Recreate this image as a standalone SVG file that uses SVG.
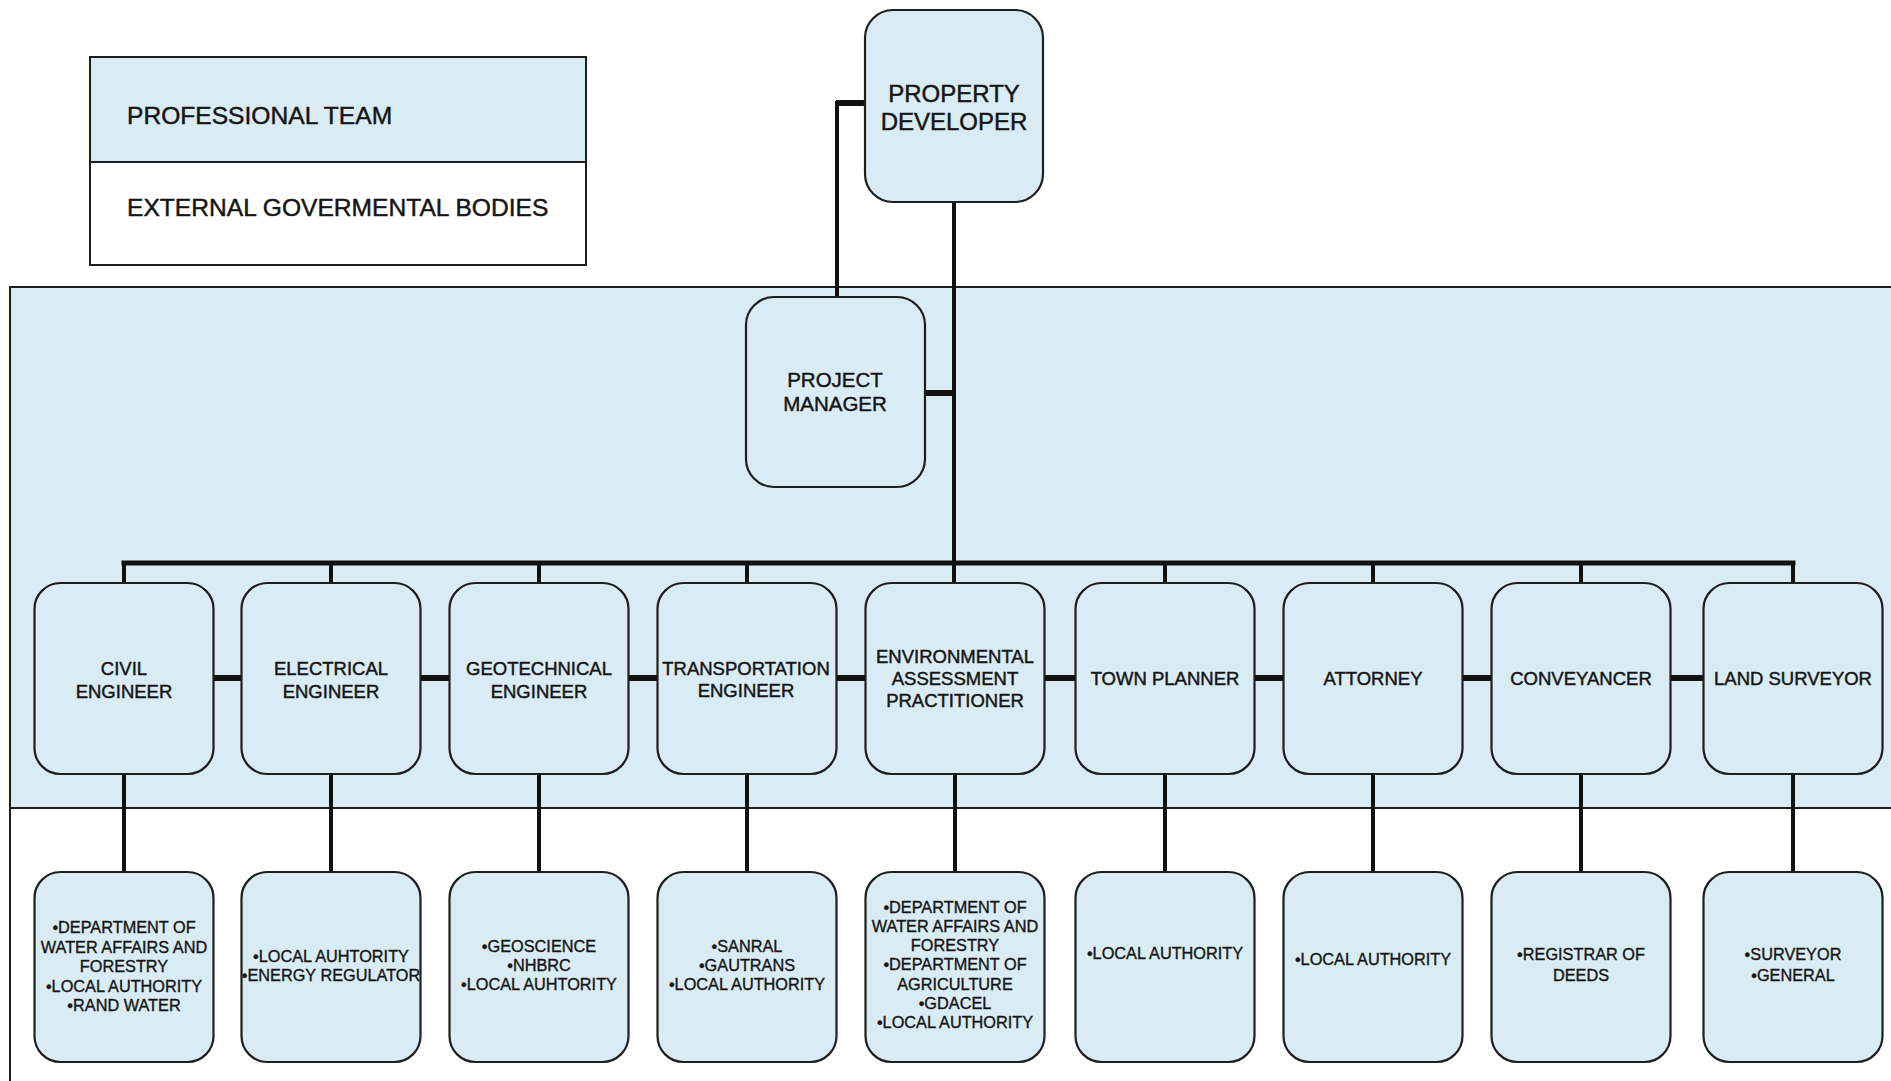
<svg xmlns="http://www.w3.org/2000/svg" width="1891" height="1081" viewBox="0 0 1891 1081">
<style>
.bg{fill:#ffffff}
.blue{fill:#d9ecf3}
.frame{fill:none;stroke:#1e1e1e;stroke-width:2}
.node rect{fill:#d9ecf3;stroke:#1e1e1e;stroke-width:2.2}
text{font-family:"Liberation Sans",Arial,sans-serif;fill:#151515;text-anchor:middle;stroke:#151515;stroke-width:0.45}
.t1{font-size:18.5px}
.t2{font-size:16.3px;stroke-width:0.35}
.big{font-size:24px}
.pm{font-size:20.5px}
.leg{font-size:24.6px;text-anchor:start}
.ln{stroke:#111;stroke-width:4;fill:none}
.bus{stroke:#111;stroke-width:5;fill:none}
.stub{stroke:#111;stroke-width:6;fill:none}
</style>
<rect class="bg" x="0" y="0" width="1891" height="1081"/>

<g id="legend">
  <rect class="blue" x="90" y="57" width="496" height="105"/>
  <rect fill="#ffffff" x="90" y="162" width="496" height="103"/>
  <rect class="frame" x="90" y="57" width="496" height="208"/>
  <line class="frame" x1="90" y1="162" x2="586" y2="162"/>
  <text class="leg" x="127" y="124">PROFESSIONAL TEAM</text>
  <text class="leg" x="127" y="216">EXTERNAL GOVERMENTAL BODIES</text>
</g>

<g id="panels">
  <rect class="blue" x="10" y="287" width="1895" height="521"/>
  <path class="frame" d="M1900 287 H10 V1085"/>
  <line class="frame" x1="10" y1="808" x2="1900" y2="808"/>
</g>

<g id="connectors">
  <path class="stub" d="M836 103 H866"/>
  <path class="ln" d="M837 101 V297"/>
  <path class="ln" d="M954 202 V583"/>
  <path class="stub" d="M925 393 H954"/>
  <path class="bus" d="M121.5 563 H1795.5"/>
  <path class="ln" d="M124 563 V583 M331 563 V583 M539 563 V583 M747 563 V583 M1165 563 V583 M1373 563 V583 M1581 563 V583 M1793 563 V583"/>
  <path class="stub" d="M213.5 678 H241.5 M420.5 678 H449.5 M628.5 678 H657.5 M836.5 678 H865.5 M1044.5 678 H1075.5 M1254.5 678 H1283.5 M1462.5 678 H1491.5 M1670.5 678 H1703.5"/>
  <path class="ln" d="M124 774 V872 M331 774 V872 M539 774 V872 M747 774 V872 M955 774 V872 M1165 774 V872 M1373 774 V872 M1581 774 V872 M1793 774 V872"/>
</g>

<g id="property-developer" class="node">
  <rect x="865" y="10" width="178" height="192" rx="28"/>
  <text class="big" x="954" y="102">PROPERTY</text>
  <text class="big" x="954" y="130">DEVELOPER</text>
</g>

<g id="project-manager" class="node">
  <rect x="746" y="297" width="179" height="190" rx="28"/>
  <text class="pm" x="835" y="387">PROJECT</text>
  <text class="pm" x="835" y="411">MANAGER</text>
</g>

<g id="civil-engineer" class="node">
  <rect x="34.5" y="583" width="179" height="191" rx="26"/>
  <text class="t1" x="124" y="675">CIVIL</text>
  <text class="t1" x="124" y="698">ENGINEER</text>
</g>
<g id="electrical-engineer" class="node">
  <rect x="241.5" y="583" width="179" height="191" rx="26"/>
  <text class="t1" x="331" y="675">ELECTRICAL</text>
  <text class="t1" x="331" y="698">ENGINEER</text>
</g>
<g id="geotechnical-engineer" class="node">
  <rect x="449.5" y="583" width="179" height="191" rx="26"/>
  <text class="t1" x="539" y="675">GEOTECHNICAL</text>
  <text class="t1" x="539" y="698">ENGINEER</text>
</g>
<g id="transportation-engineer" class="node">
  <rect x="657.5" y="583" width="179" height="191" rx="26"/>
  <text class="t1" x="746" y="675">TRANSPORTATION</text>
  <text class="t1" x="746" y="697">ENGINEER</text>
</g>
<g id="environmental-assessment-practitioner" class="node">
  <rect x="865.5" y="583" width="179" height="191" rx="26"/>
  <text class="t1" x="955" y="663">ENVIRONMENTAL</text>
  <text class="t1" x="955" y="685">ASSESSMENT</text>
  <text class="t1" x="955" y="707">PRACTITIONER</text>
</g>
<g id="town-planner" class="node">
  <rect x="1075.5" y="583" width="179" height="191" rx="26"/>
  <text class="t1" x="1165" y="685">TOWN PLANNER</text>
</g>
<g id="attorney" class="node">
  <rect x="1283.5" y="583" width="179" height="191" rx="26"/>
  <text class="t1" x="1373" y="685">ATTORNEY</text>
</g>
<g id="conveyancer" class="node">
  <rect x="1491.5" y="583" width="179" height="191" rx="26"/>
  <text class="t1" x="1581" y="685">CONVEYANCER</text>
</g>
<g id="land-surveyor" class="node">
  <rect x="1703.5" y="583" width="179" height="191" rx="26"/>
  <text class="t1" x="1793" y="685">LAND SURVEYOR</text>
</g>

<g id="civil-bodies" class="node">
  <rect x="34.5" y="872" width="179" height="190" rx="26"/>
  <text class="t2" x="124" y="933">•DEPARTMENT OF</text>
  <text class="t2" x="124" y="953">WATER AFFAIRS AND</text>
  <text class="t2" x="124" y="972">FORESTRY</text>
  <text class="t2" x="124" y="992">•LOCAL AUTHORITY</text>
  <text class="t2" x="124" y="1011">•RAND WATER</text>
</g>
<g id="electrical-bodies" class="node">
  <rect x="241.5" y="872" width="179" height="190" rx="26"/>
  <text class="t2" x="331" y="962">•LOCAL AUHTORITY</text>
  <text class="t2" x="331" y="981">•ENERGY REGULATOR</text>
</g>
<g id="geotechnical-bodies" class="node">
  <rect x="449.5" y="872" width="179" height="190" rx="26"/>
  <text class="t2" x="539" y="952">•GEOSCIENCE</text>
  <text class="t2" x="539" y="971">•NHBRC</text>
  <text class="t2" x="539" y="990">•LOCAL AUHTORITY</text>
</g>
<g id="transportation-bodies" class="node">
  <rect x="657.5" y="872" width="179" height="190" rx="26"/>
  <text class="t2" x="747" y="952">•SANRAL</text>
  <text class="t2" x="747" y="971">•GAUTRANS</text>
  <text class="t2" x="747" y="990">•LOCAL AUTHORITY</text>
</g>
<g id="environmental-bodies" class="node">
  <rect x="865.5" y="872" width="179" height="190" rx="26"/>
  <text class="t2" x="955" y="913">•DEPARTMENT OF</text>
  <text class="t2" x="955" y="932">WATER AFFAIRS AND</text>
  <text class="t2" x="955" y="951">FORESTRY</text>
  <text class="t2" x="955" y="970">•DEPARTMENT OF</text>
  <text class="t2" x="955" y="990">AGRICULTURE</text>
  <text class="t2" x="955" y="1009">•GDACEL</text>
  <text class="t2" x="955" y="1028">•LOCAL AUTHORITY</text>
</g>
<g id="town-planner-bodies" class="node">
  <rect x="1075.5" y="872" width="179" height="190" rx="26"/>
  <text class="t2" x="1165" y="959">•LOCAL AUTHORITY</text>
</g>
<g id="attorney-bodies" class="node">
  <rect x="1283.5" y="872" width="179" height="190" rx="26"/>
  <text class="t2" x="1373" y="965">•LOCAL AUTHORITY</text>
</g>
<g id="conveyancer-bodies" class="node">
  <rect x="1491.5" y="872" width="179" height="190" rx="26"/>
  <text class="t2" x="1581" y="960">•REGISTRAR OF</text>
  <text class="t2" x="1581" y="981">DEEDS</text>
</g>
<g id="land-surveyor-bodies" class="node">
  <rect x="1703.5" y="872" width="179" height="190" rx="26"/>
  <text class="t2" x="1793" y="960">•SURVEYOR</text>
  <text class="t2" x="1793" y="981">•GENERAL</text>
</g>
</svg>
